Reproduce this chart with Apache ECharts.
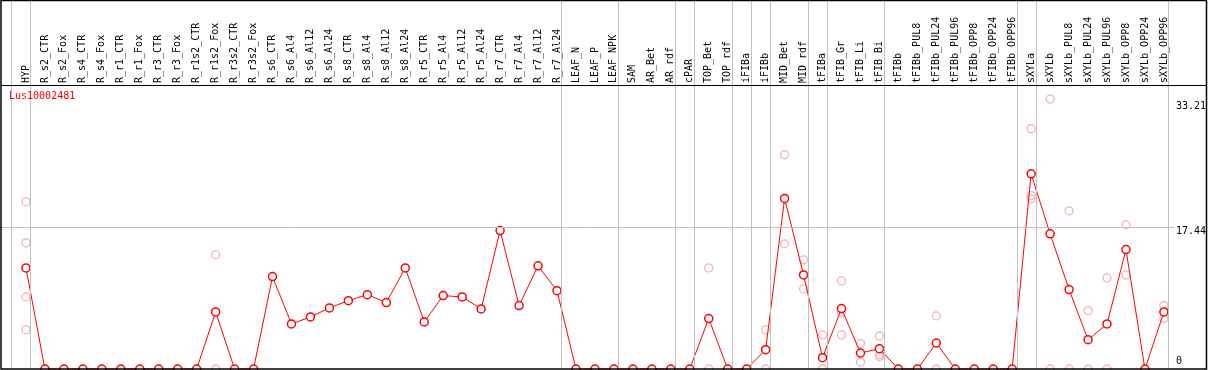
<!DOCTYPE html>
<html>
<head>
<meta charset="utf-8">
<script src="https://cdn.jsdelivr.net/npm/echarts@6/dist/echarts.min.js"></script>
<style>
html,body{margin:0;padding:0;background:#fff;}
#chart{width:1209px;height:370px;}
</style>
</head>
<body>
<div id="chart"></div>
<script>
const geneName = 'Lus10002481';
const categories = [
  'HYP','R_s2_CTR','R_s2_Fox','R_s4_CTR','R_s4_Fox','R_r1_CTR','R_r1_Fox','R_r3_CTR','R_r3_Fox',
  'R_r1s2_CTR','R_r1s2_Fox','R_r3s2_CTR','R_r3s2_Fox','R_s6_CTR','R_s6_Al4','R_s6_Al12','R_s6_Al24',
  'R_s8_CTR','R_s8_Al4','R_s8_Al12','R_s8_Al24','R_r5_CTR','R_r5_Al4','R_r5_Al12','R_r5_Al24',
  'R_r7_CTR','R_r7_Al4','R_r7_Al12','R_r7_Al24','LEAF_N','LEAF_P','LEAF_NPK','SAM','AR_Bet','AR_rdf',
  'cPAR','TOP_Bet','TOP_rdf','iFIBa','iFIBb','MID_Bet','MID_rdf','tFIBa','tFIB_Gr','tFIB_Li','tFIB_Bi',
  'tFIBb','tFIBb_PUL8','tFIBb_PUL24','tFIBb_PUL96','tFIBb_OPP8','tFIBb_OPP24','tFIBb_OPP96',
  'sXYLa','sXYLb','sXYLb_PUL8','sXYLb_PUL24','sXYLb_PUL96','sXYLb_OPP8','sXYLb_OPP24','sXYLb_OPP96'
];
const meanValues = [
  12.44,                                   // HYP
  0, 0, 0, 0, 0, 0, 0, 0,                  // R_s2_CTR .. R_r3_Fox
  0, 7.02, 0, 0,                           // R_r1s2_CTR .. R_r3s2_Fox
  11.37, 5.54, 6.40, 7.51,                 // R_s6
  8.41, 9.15, 8.17, 12.44,                 // R_s8
  5.79, 9.03, 8.87, 7.39,                  // R_r5
  17.03, 7.80, 12.69, 9.64,                // R_r7
  0, 0, 0,                                 // LEAF
  0, 0, 0, 0,                              // SAM, AR_Bet, AR_rdf, cPAR
  6.21, 0, 0, 2.38,                        // TOP_Bet, TOP_rdf, iFIBa, iFIBb
  20.98, 11.58, 1.39,                      // MID_Bet, MID_rdf, tFIBa
  7.43, 1.97, 2.50,                        // tFIB_Gr, tFIB_Li, tFIB_Bi
  0, 0, 3.20, 0, 0, 0, 0,                  // tFIBb ..
  24.02, 16.63,                            // sXYLa, sXYLb
  9.77, 3.61, 5.54, 14.69, 0, 7.02         // sXYLb_*
];
const replicateCats = [
  'HYP','HYP','HYP','HYP',
  'R_r1s2_Fox','R_r1s2_Fox',
  'TOP_Bet','TOP_Bet',
  'iFIBb','iFIBb',
  'MID_Bet','MID_Bet',
  'MID_rdf','MID_rdf',
  'tFIBa','tFIBa',
  'tFIB_Gr','tFIB_Gr','tFIB_Gr',
  'tFIB_Li','tFIB_Li',
  'tFIB_Bi','tFIB_Bi','tFIB_Bi',
  'tFIBb_PUL24','tFIBb_PUL24',
  'sXYLa','sXYLa','sXYLa',
  'sXYLb','sXYLb',
  'sXYLb_PUL8','sXYLb_PUL8',
  'sXYLb_PUL24','sXYLb_PUL24',
  'sXYLb_PUL96','sXYLb_PUL96',
  'sXYLb_OPP8','sXYLb_OPP8',
  'sXYLb_OPP96','sXYLb_OPP96'
];
const replicateVals = [
  20.57, 15.52, 8.87, 4.84,
  14.04, 0,
  12.44, 0,
  4.84, 0,
  26.36, 15.40,
  13.43, 9.85,
  4.19, 0,
  10.84, 6.90, 4.19,
  3.12, 0.86,
  4.06, 1.76, 1.55,
  6.53, 0,
  29.56, 21.34, 20.94,
  33.21, 0,
  19.46, 0,
  7.18, 0,
  11.21, 0,
  17.74, 11.58,
  7.80, 6.23
];
const yTickValues = [0, 17.44, 33.21];
const refLineValue = 17.44;
// group separators are drawn just after these category names
const separatorAfter = ['', 'HYP', 'R_r7_Al24', 'LEAF_NPK', 'AR_rdf', 'cPAR', 'TOP_rdf', 'iFIBa', 'iFIBb',
  'MID_rdf', 'tFIBa', 'tFIB_Bi', 'tFIBb_OPP96', 'sXYLa', 'sXYLb_OPP96'];

const FONT = '"DejaVu Sans Mono", monospace';

const chart = echarts.init(document.getElementById('chart'), null, {renderer: 'canvas'});

const lineData = meanValues.map((v, i) => [i, v]);
const repData = replicateVals.map((v, k) => [categories.indexOf(replicateCats[k]), v]);
const sepData = separatorAfter.map(n => ({xAxis: categories.indexOf(n) + 0.25}));

chart.setOption({
  animation: false,
  backgroundColor: '#fff',
  title: {
    text: geneName, left: 9, top: 91, padding: 0,
    textStyle: {color: '#ff0000', fontFamily: FONT, fontSize: 10, fontWeight: 'normal'}
  },
  grid: {left: 1, top: 0, width: 1175, height: 369, containLabel: false},
  xAxis: {
    type: 'value', position: 'top', offset: -85,
    min: -25 / 19, max: 1150 / 19,
    splitLine: {show: false}, axisLine: {show: false}, axisTick: {show: false},
    axisLabel: {
      customValues: categories.map((c, i) => i),
      rotate: 90, margin: 2, color: '#000', fontFamily: FONT, fontSize: 10,
      formatter: v => categories[Math.round(v)]
    }
  },
  yAxis: {
    type: 'value', position: 'right', min: 0, max: 45.4,
    splitLine: {show: false}, axisLine: {show: false}, axisTick: {show: false},
    axisLabel: {
      customValues: yTickValues, margin: 2, color: '#000', fontFamily: FONT, fontSize: 10,
      align: 'left',
      formatter: v => {
        if (v === 0) return '{b|0}';
        if (Math.abs(v - 33.21) < 1e-6) return '{t|33.21}';
        return '{m|' + v.toFixed(2) + '}';
      },
      rich: {
        b: {fontFamily: FONT, fontSize: 10, color: '#000', padding: [0, 0, 15, 0]},
        t: {fontFamily: FONT, fontSize: 10, color: '#000', padding: [15, 0, 0, 0]},
        m: {fontFamily: FONT, fontSize: 10, color: '#000', padding: [8, 0, 0, 0]}
      }
    }
  },
  graphic: [
    {type: 'rect', z: 100, silent: true,
      shape: {x: 1, y: 0.5, width: 1205.5, height: 368.5},
      style: {fill: 'none', stroke: '#000', lineWidth: 1.5}},
    {type: 'line', z: 100, silent: true,
      shape: {x1: 1, y1: 85.5, x2: 1207, y2: 85.5},
      style: {stroke: '#000', lineWidth: 1}}
  ],
  series: [
    {
      type: 'line', data: [], silent: true, z: 1,
      markLine: {
        silent: true, symbol: ['none', 'none'], label: {show: false},
        lineStyle: {color: '#c0c0c0', width: 1, type: 'solid'},
        emphasis: {disabled: true},
        data: sepData.concat([{yAxis: refLineValue}])
      }
    },
    {
      type: 'scatter', data: repData, z: 2, silent: true,
      symbol: 'circle', symbolSize: 8,
      itemStyle: {color: 'rgba(0,0,0,0)', borderColor: '#f0a0a0', borderWidth: 1.3}
    },
    {
      type: 'line', data: lineData, z: 3, silent: true,
      symbol: 'circle', symbolSize: 8, showSymbol: true,
      lineStyle: {color: '#ff0000', width: 1},
      itemStyle: {color: '#ffffff', borderColor: '#ff0000', borderWidth: 1.5}
    }
  ]
});
</script>
</body>
</html>
